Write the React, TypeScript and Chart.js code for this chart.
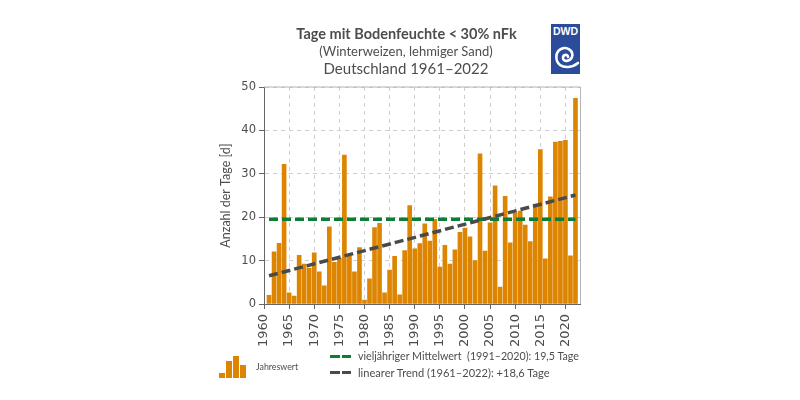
import { useEffect, useRef } from "react"
import { Chart, registerables } from "chart.js"

Chart.register(...registerables)

const years = [
  1961, 1962, 1963, 1964, 1965, 1966, 1967, 1968, 1969, 1970, 1971, 1972, 1973, 1974, 1975, 1976, 1977, 1978, 1979, 1980, 1981,
  1982, 1983, 1984, 1985, 1986, 1987, 1988, 1989, 1990, 1991, 1992, 1993, 1994, 1995, 1996, 1997, 1998, 1999, 2000, 2001, 2002,
  2003, 2004, 2005, 2006, 2007, 2008, 2009, 2010, 2011, 2012, 2013, 2014, 2015, 2016, 2017, 2018, 2019, 2020, 2021, 2022,
]
const days = [
  2, 12, 14, 32.2, 2.6, 1.8, 11.2, 9.2, 8.3, 11.8, 7.4, 4.2, 17.8, 9.6, 10.5, 34.3, 11, 7.4, 13, 0.9, 5.8,
  17.6, 18.6, 2.6, 7.8, 11, 2.1, 12.3, 22.7, 12.7, 13.9, 18.5, 14.5, 19.5, 8.5, 13.5, 9.2, 12.5, 16.5, 17.5, 15.5, 10,
  34.6, 12.2, 18.7, 27.2, 3.9, 24.8, 14.1, 21, 21.4, 18.2, 14.4, 23, 35.6, 10.4, 24.7, 37.3, 37.5, 37.7, 11.1, 47.4,
]
const meanYears = [1961, 2022]
const meanValues = [19.5, 19.5]
const trendYears = [1961, 2022]
const trendValues = [6.5, 25.1]

const textColor = "#4d4d4d"
const barColor = "#dd8500"
const fontName = "Lato, sans-serif"

// top and right edge of the plot box
const plotFrame = {
  id: "plotFrame",
  afterDatasetsDraw(chart: Chart) {
    const { ctx, chartArea } = chart
    ctx.save()
    ctx.strokeStyle = "#b5b5b5"
    ctx.lineWidth = 1
    ctx.beginPath()
    ctx.moveTo(chartArea.left, chartArea.top)
    ctx.lineTo(chartArea.right, chartArea.top)
    ctx.lineTo(chartArea.right, chartArea.bottom)
    ctx.stroke()
    ctx.restore()
  },
}

function label(x: number, y: number, size: number, text: string, weight = 400, center = false) {
  return (
    <div
      style={{
        position: "absolute",
        left: x,
        top: y,
        fontSize: size,
        fontWeight: weight,
        color: textColor,
        fontFamily: fontName,
        whiteSpace: "pre",
        lineHeight: 1,
        transform: center ? "translateX(-50%)" : undefined,
      }}
    >
      {text}
    </div>
  )
}

function dash(x: number, y: number, w: number, color: string) {
  return <div style={{ position: "absolute", left: x, top: y, width: w, height: 3, background: color }} />
}

function iconBar(x: number, y: number, h: number) {
  return <div style={{ position: "absolute", left: x, top: y, width: 6, height: h, background: barColor }} />
}

export default function App() {
  const chartRef = useRef<HTMLCanvasElement>(null)

  useEffect(() => {
    if (!chartRef.current) return
    const chart = new Chart(chartRef.current, {
      type: "bar",
      data: {
        datasets: [
          {
            type: "line",
            data: trendYears.map((y, i) => ({ x: y, y: trendValues[i] })),
            borderColor: "#4a4a4a",
            borderWidth: 3.5,
            borderDash: [9, 4],
            pointRadius: 0,
            order: 1,
          },
          {
            type: "line",
            data: meanYears.map((y, i) => ({ x: y, y: meanValues[i] })),
            borderColor: "#0b7d35",
            borderWidth: 3.5,
            borderDash: [9, 4],
            pointRadius: 0,
            order: 2,
          },
          {
            type: "bar",
            data: years.map((y, i) => ({ x: y, y: days[i] })),
            backgroundColor: barColor,
            barThickness: 4,
            order: 3,
          },
        ],
      },
      options: {
        animation: false,
        responsive: false,
        layout: { padding: { left: 218, top: 87, right: 219.5, bottom: 50 } },
        plugins: { legend: { display: false }, tooltip: { enabled: false } },
        scales: {
          x: {
            type: "linear",
            offset: false,
            min: 1960,
            max: 2023,
            afterFit: (scale) => {
              scale.height = 46
            },
            afterBuildTicks: (scale) => {
              scale.ticks = scale.ticks.filter((t) => t.value % 5 === 0)
            },
            grid: { color: "#cfcfcf", tickColor: "#666666", tickLength: 5, offset: false },
            border: { color: "#666666", dash: [4, 4] },
            ticks: {
              stepSize: 5,
              minRotation: 90,
              maxRotation: 90,
              autoSkip: false,
              color: textColor,
              padding: 5,
              font: { family: "'DejaVu Sans', sans-serif", size: 13 },
              callback: (v) => String(v),
            },
          },
          y: {
            min: 0,
            max: 50,
            afterFit: (scale) => {
              scale.width = 46
            },
            grid: { color: "#cfcfcf", tickColor: "#666666", tickLength: 5 },
            border: { color: "#666666", dash: [4, 4] },
            ticks: {
              stepSize: 10,
              color: textColor,
              padding: 3,
              font: { family: "'DejaVu Sans', sans-serif", size: 11.5 },
            },
            title: {
              display: true,
              text: "Anzahl der Tage [d]",
              color: textColor,
              padding: 0,
              font: { family: fontName, size: 12.5 },
            },
          },
        },
      },
      plugins: [plotFrame],
    })
    return () => chart.destroy()
  }, [])

  return (
    <div style={{ position: "fixed", left: 0, top: 0, width: 800, height: 400, background: "#fff", overflow: "hidden" }}>
      <canvas ref={chartRef} width={800} height={400} style={{ position: "absolute", left: 0, top: 0 }} />
      {label(406.5, 27, 14.5, "Tage mit Bodenfeuchte < 30% nFk", 700, true)}
      {label(406, 45, 13, "(Winterweizen, lehmiger Sand)", 400, true)}
      {label(406, 61, 15, "Deutschland 1961–2022", 400, true)}

      <svg style={{ position: "absolute", left: 551, top: 24 }} width={29} height={50} viewBox="0 0 29 50">
        <rect width={29} height={50} fill="#2b4b9b" />
        <text x={14.5} y={11} textAnchor="middle" fill="#fff" fontSize={10.5} fontWeight={700} fontFamily="'Liberation Sans', sans-serif">
          DWD
        </text>
        <path
          d="M17 33 C17 30 12 30 12 34 C12 38 19 38 21 33 C23 27 16 22 10 25 C4 28 4 37 9 41 C13 44 21 44 27 39"
          fill="none"
          stroke="#fff"
          strokeWidth={2.6}
          strokeLinecap="round"
        />
      </svg>

      {iconBar(219, 373, 5)}
      {iconBar(226, 361, 17)}
      {iconBar(233, 356, 22)}
      {iconBar(240, 365, 13)}
      {label(256, 363, 8.8, "Jahreswert")}

      {dash(330, 355, 10, "#0b7d35")}
      {dash(342, 355, 9, "#0b7d35")}
      {label(358, 350.5, 10.7, "vieljähriger Mittelwert  (1991–2020): 19,5 Tage")}
      {dash(330, 371, 10, "#4a4a4a")}
      {dash(342, 371, 9, "#4a4a4a")}
      {label(358, 366.5, 11.1, "linearer Trend (1961–2022): +18,6 Tage")}
    </div>
  )
}
